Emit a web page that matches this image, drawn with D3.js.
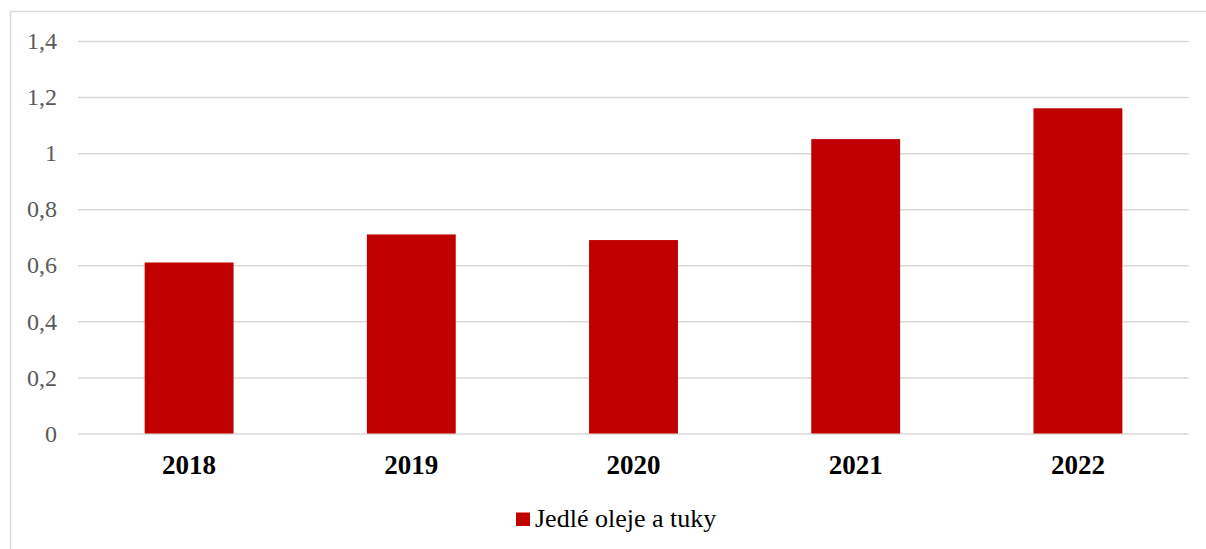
<!DOCTYPE html>
<html><head><meta charset="utf-8">
<script src="https://cdn.jsdelivr.net/npm/d3@7/dist/d3.min.js"></script>
<style>body{margin:0;background:#fff;}svg{display:block;}</style>
</head><body>
<svg id="c" width="1206" height="549"></svg>
<script>
const categories = ["2018","2019","2020","2021","2022"];
const values = [0.61, 0.71, 0.69, 1.05, 1.16];
const yTicks = [0, 0.2, 0.4, 0.6, 0.8, 1.0, 1.2, 1.4];
const seriesName = "Jedlé oleje a tuky";
const FONT = "'Liberation Serif'";

const svg = d3.select("#c");
const W = 1206, H = 549;
const m = {left: 78, right: 1189, top: 41, bottom: 433.5};

svg.append("rect").attr("x",10.5).attr("y",11.5).attr("width",W+10).attr("height",H+10)
  .attr("fill","#fff").attr("stroke","#d9d9d9").attr("stroke-width",1.5);

const x = d3.scaleBand().domain(categories).range([m.left, m.right]).paddingInner(0.6).paddingOuter(0.3);
const y = d3.scaleLinear().domain([0,1.4]).range([m.bottom, m.top]);

const fmt = d => d3.format("~g")(+d.toFixed(1)).replace(".", ",");

const gy = svg.append("g").attr("transform",`translate(${m.left},0)`)
  .call(d3.axisLeft(y).tickValues(yTicks).tickSize(-(m.right-m.left)).tickPadding(21).tickFormat(fmt));
gy.attr("font-family", FONT).attr("font-size", 24);
gy.select(".domain").remove();
gy.selectAll(".tick line").attr("stroke","#d9d9d9").attr("stroke-width",1.5);
gy.selectAll(".tick text").attr("fill","#595959").style("font-family",FONT).style("font-size","24px");

svg.append("g").selectAll("rect").data(values).join("rect")
  .attr("x",(d,i)=>x(categories[i])).attr("width",x.bandwidth())
  .attr("y",d=>y(d)).attr("height",d=>y(0)-y(d)).attr("fill","#c00000");

const gx = svg.append("g").attr("transform",`translate(0,${m.bottom})`)
  .call(d3.axisBottom(x).tickSize(0).tickPadding(21));
gx.attr("font-family", FONT).attr("font-size", 27);
gx.select(".domain").remove();
gx.selectAll(".tick text").attr("fill","#000").style("font-family",FONT)
  .style("font-size","27px").style("font-weight","bold");

const lg = svg.append("g");
lg.append("rect").attr("x",516).attr("y",512.5).attr("width",14).attr("height",13.5).attr("fill","#c00000");
lg.append("text").attr("x",535).attr("y",527).text(seriesName)
  .style("font-family",FONT).style("font-size","26px").attr("fill","#000");
</script>
</body></html>
